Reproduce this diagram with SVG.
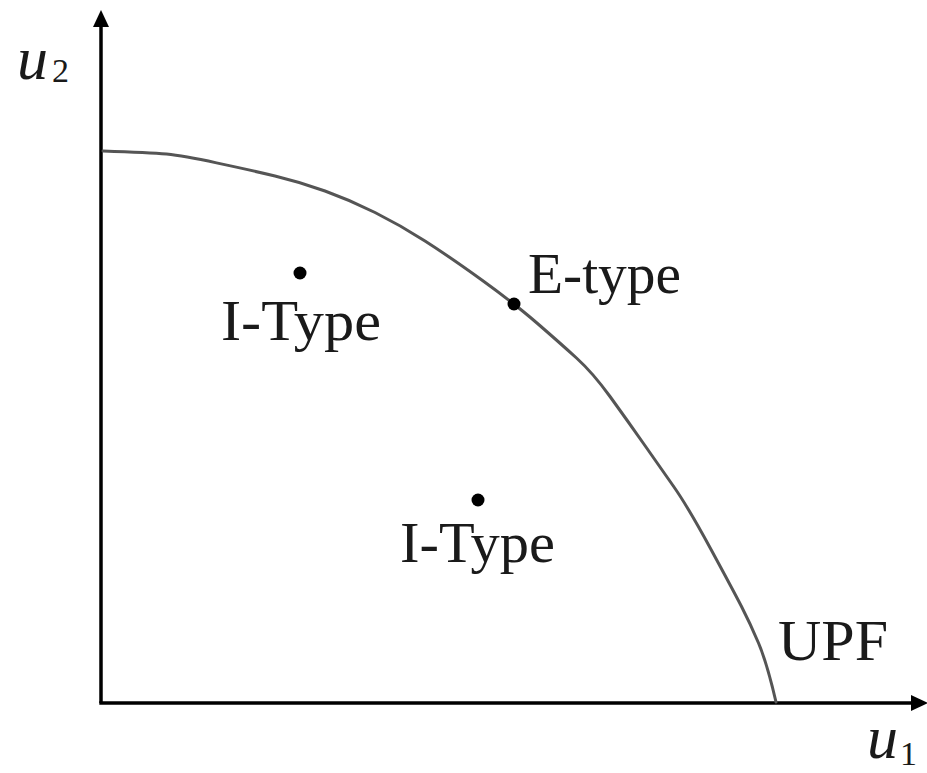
<svg xmlns="http://www.w3.org/2000/svg" width="927" height="773" viewBox="0 0 927 773">
<style>
.lbl{font-family:"Liberation Serif","DejaVu Serif",serif;font-size:56px;fill:#1a1a1a}
.math{font-family:"Liberation Serif","DejaVu Serif",serif;font-style:italic;font-size:62px;fill:#1a1a1a}
.sub{font-family:"Liberation Serif","DejaVu Serif",serif;font-size:34px;fill:#1a1a1a}
.axis{stroke:#000;stroke-width:3.5;fill:none}
.curve{stroke:#555;stroke-width:3;fill:none;stroke-linecap:round;stroke-linejoin:round}
.dot{fill:#000}
</style>
<rect width="927" height="773" fill="#fff"/>
<g id="axes">
  <line class="axis" x1="101" y1="24" x2="101" y2="703"/>
  <line class="axis" x1="99.3" y1="703" x2="914" y2="703"/>
  <polygon points="101,10 93,27 109,27" fill="#000"/>
  <polygon points="928,703 911,695 911,711" fill="#000"/>
</g>
<g id="connectors">
  <path id="upf-curve" class="curve" d="M103,151 Q150,152.5 166.5,154.1 Q183,155.7 216.5,162.9 Q250,170 275,176 Q300,182 325,191 Q350,200 375,212.5 Q400,225 425,241 Q450,257 482.5,280.5 Q515,304 537.5,323.5 Q560,343 576.5,358 Q593,373 610,396.5 Q627,420 643.5,443.5 Q660,467 674,487 Q688,507 710.5,548.5 Q733,590 741.5,606.5 Q750,623 758.5,643 Q767,663 776,702"/>
</g>
<g id="label-u2">
  <text class="math" x="17" y="79">u</text>
  <text class="sub" x="52" y="82">2</text>
</g>
<g id="label-u1">
  <text class="math" x="867" y="758">u</text>
  <text class="sub" x="900" y="765">1</text>
</g>
<g id="node-itype-1">
  <circle class="dot" cx="300" cy="273" r="6.5"/>
  <text class="lbl" x="221" y="340" textLength="160" lengthAdjust="spacingAndGlyphs">I-Type</text>
</g>
<g id="node-etype">
  <circle class="dot" cx="514" cy="304" r="6.5"/>
  <text class="lbl" x="528" y="293" textLength="153" lengthAdjust="spacingAndGlyphs">E-type</text>
</g>
<g id="node-itype-2">
  <circle class="dot" cx="478" cy="500" r="6.5"/>
  <text class="lbl" x="400" y="562" textLength="155" lengthAdjust="spacingAndGlyphs">I-Type</text>
</g>
<g id="label-upf">
  <text class="lbl" x="778" y="660" textLength="110" lengthAdjust="spacingAndGlyphs">UPF</text>
</g>
</svg>
